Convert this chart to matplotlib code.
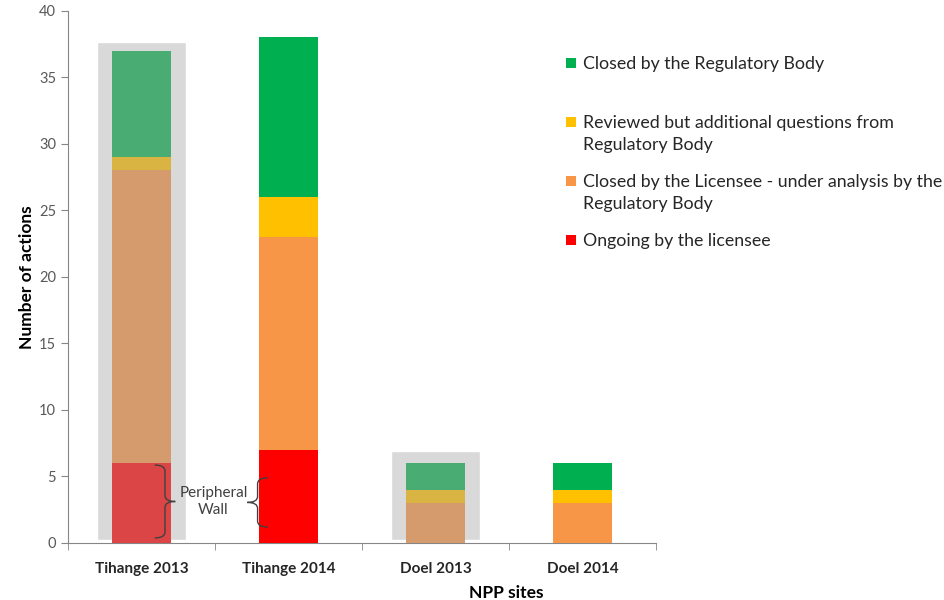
import matplotlib
matplotlib.use("Agg")
import matplotlib.pyplot as plt
from matplotlib.patches import Rectangle, PathPatch
from matplotlib.path import Path

plt.rcParams['font.family'] = ['Lato', 'DejaVu Sans']

# data
sites = ['Tihange 2013', 'Tihange 2014', 'Doel 2013', 'Doel 2014']
ongoing = [6, 7, 0, 0]
closed_licensee = [22, 16, 3, 3]
reviewed = [1, 3, 1, 1]
closed_rb = [8, 12, 2, 2]
series = [ongoing, closed_licensee, reviewed, closed_rb]
labels = ['Ongoing by the licensee',
          'Closed by the Licensee - under analysis by the\nRegulatory Body',
          'Reviewed but additional questions from\nRegulatory Body',
          'Closed by the Regulatory Body']

colors = ['#FF0000', '#F79646', '#FFC000', '#00B050']
faded = ['#DC4545', '#D59B6C', '#D9B443', '#48AC73']
faded_sites = [0, 2]

fig = plt.figure(figsize=(9.44, 6), dpi=100)
ax = fig.add_axes([0.072, 0.095, 0.928, 0.887])

x = list(range(len(sites)))
bottom = [0] * len(sites)
for s, c, fc in zip(series, colors, faded):
    cols = [fc if i in faded_sites else c for i in x]
    ax.bar(x, s, width=0.4, bottom=bottom, color=cols, zorder=3)
    bottom = [b + v for b, v in zip(bottom, s)]

# gray highlight boxes behind the 2013 bars
for i in faded_sites:
    top = bottom[i] + 0.65 if i == 0 else bottom[i] + 0.9
    ax.add_patch(Rectangle((i - 0.3, 0.25), 0.6, top - 0.25,
                           facecolor='#D9D9D9', edgecolor='white', lw=1, zorder=2))

ax.set_xlim(-0.5, 5.46)
ax.set_ylim(0, 40)
ax.set_yticks(range(0, 41, 5))
ax.set_xticks(x)
ax.set_xticklabels(sites, fontweight='bold', fontsize=11, color='#262626')
ax.set_xticks([-0.5, 0.5, 1.5, 2.5, 3.5], minor=True)
ax.tick_params(axis='x', which='major', length=0, pad=14)
ax.tick_params(axis='x', which='minor', length=5, color='#868686', direction='out')
ax.tick_params(axis='y', length=5, color='#868686', labelcolor='#595959', labelsize=10.5)
for side in ['top', 'right']:
    ax.spines[side].set_visible(False)
for side in ['left', 'bottom']:
    ax.spines[side].set_color('#868686')
ax.spines['bottom'].set_bounds(-0.5, 3.5)

ax.set_ylabel('Number of actions', fontweight='bold', fontsize=12.5, labelpad=3)
ax.set_xlabel('NPP sites', fontweight='bold', fontsize=12.5, labelpad=6)


def brace(x0, y0, y1, w, h, direction=1):
    ym = (y0 + y1) / 2
    verts = [(x0 - direction * w, y1), (x0, y1), (x0, y1 - h),
             (x0, ym + h), (x0, ym), (x0 + direction * w, ym),
             (x0, ym), (x0, ym - h),
             (x0, y0 + h), (x0, y0), (x0 - direction * w, y0)]
    codes = [Path.MOVETO, Path.CURVE3, Path.CURVE3,
             Path.LINETO, Path.CURVE3, Path.CURVE3,
             Path.CURVE3, Path.CURVE3,
             Path.LINETO, Path.CURVE3, Path.CURVE3]
    ax.add_patch(PathPatch(Path(verts, codes), fill=False, lw=1,
                           edgecolor='#404040', zorder=5))


brace(0.16, 0.38, 5.86, 0.07, 0.45, 1)
brace(0.79, 1.2, 4.9, 0.07, 0.45, -1)
ax.text(0.49, 3.1, 'Peripheral\nWall', ha='center', va='center',
        fontsize=11, color='#404040', linespacing=1.3, zorder=6)

# legend drawn manually
leg_y = [63, 122, 181, 240]
leg_items = [(labels[3], colors[3]), (labels[2], colors[2]),
             (labels[1], colors[1]), (labels[0], colors[0])]
for yy, (lab, c) in zip(leg_y, leg_items):
    fig.patches.append(Rectangle((566 / 944, 1 - (yy + 5) / 600), 10 / 944, 10 / 600,
                                 transform=fig.transFigure, facecolor=c,
                                 edgecolor='none'))
    fig.text(583 / 944, 1 - (yy - 7) / 600, lab, ha='left', va='top',
             fontsize=12.8, color='#262626', linespacing=1.45)

fig.savefig('out.png', dpi=100)
